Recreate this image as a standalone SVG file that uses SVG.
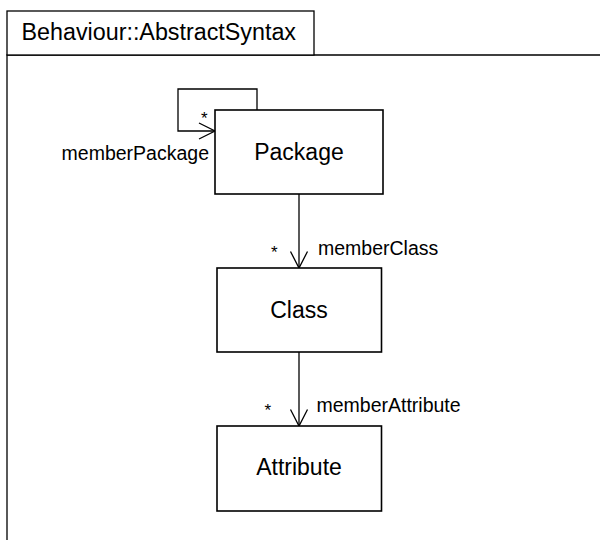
<svg xmlns="http://www.w3.org/2000/svg" width="600" height="540" viewBox="0 0 600 540">
<style>
.ln{fill:none;stroke:#000;stroke-width:1.3}
.box{fill:#fff;stroke:#000;stroke-width:1.6}
.nt{font-family:"Liberation Sans",Arial,sans-serif;font-size:23px;fill:#000;text-anchor:middle}
.lb{font-family:"Liberation Sans",Arial,sans-serif;font-size:19.5px;fill:#000}
.st{font-family:"Liberation Sans",Arial,sans-serif;font-size:17px;fill:#000}
</style>
<rect width="600" height="540" fill="#fff"/>
<g id="frame">
<path class="ln" d="M7,540 V55 H601"/>
<rect x="7" y="11" width="307" height="44" fill="#fff" stroke="#000" stroke-width="1.3"/>
<text x="21.5" y="40" font-family="Liberation Sans,Arial,sans-serif" font-size="23.3" fill="#000">Behaviour::AbstractSyntax</text>
</g>
<g id="connectors">
<path class="ln" d="M257,110 V89 H178 V131 H215"/>
<path class="ln" d="M199,123 L215,131 L199,139"/>
<text class="st" x="201" y="124">*</text>
<text class="lb" x="209" y="160" text-anchor="end">memberPackage</text>
<path class="ln" d="M299,194 V268"/>
<path class="ln" d="M290.5,251.5 L299,268 L307.5,251.5"/>
<text class="st" x="271" y="258">*</text>
<text class="lb" x="318" y="255">memberClass</text>
<path class="ln" d="M299,352 V426"/>
<path class="ln" d="M290.5,409.5 L299,426 L307.5,409.5"/>
<text class="st" x="264.5" y="415.5">*</text>
<text class="lb" x="316.5" y="412">memberAttribute</text>
</g>
<g id="Package">
<rect class="box" x="215" y="110" width="168" height="84"/>
<text class="nt" x="299" y="160">Package</text>
</g>
<g id="Class">
<rect class="box" x="217" y="268" width="164.5" height="84"/>
<text class="nt" x="299" y="318">Class</text>
</g>
<g id="Attribute">
<rect class="box" x="217" y="426" width="164.5" height="85"/>
<text class="nt" x="299" y="475">Attribute</text>
</g>
</svg>
